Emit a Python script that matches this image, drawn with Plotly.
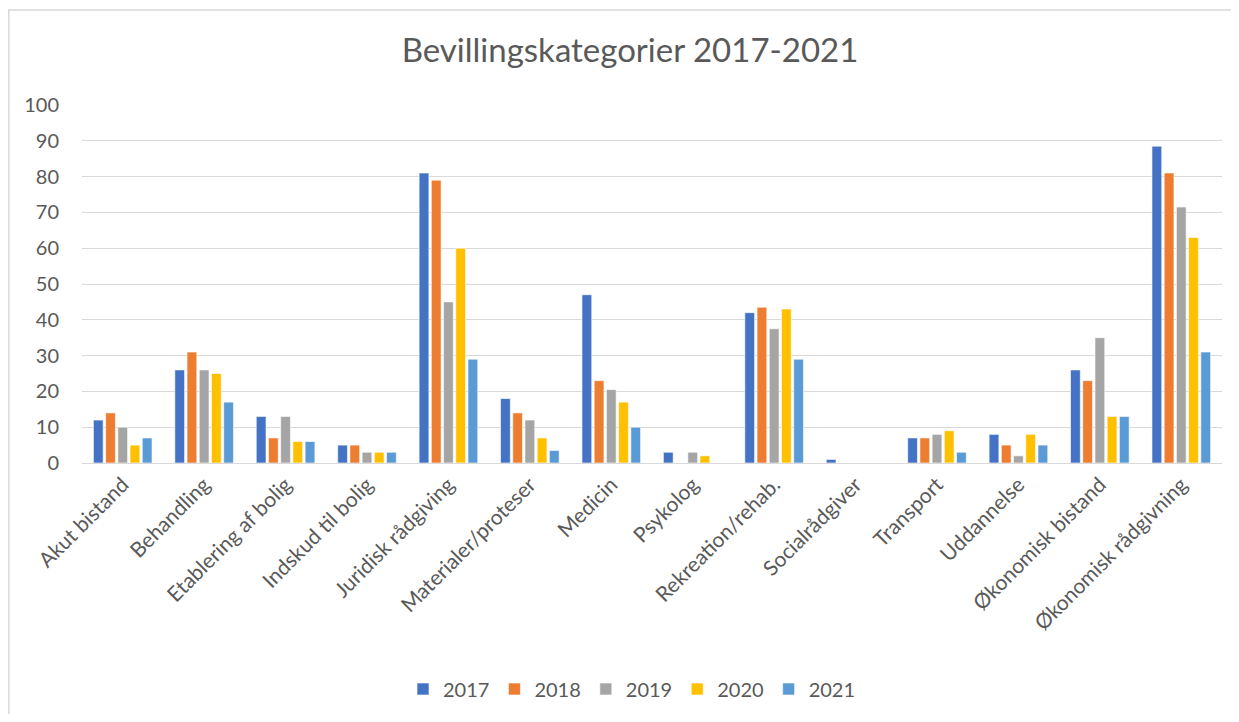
import plotly.graph_objects as go

categories = ["Akut bistand", "Behandling", "Etablering af bolig", "Indskud til bolig",
              "Juridisk rådgiving", "Materialer/proteser", "Medicin", "Psykolog",
              "Rekreation/rehab.", "Socialrådgiver", "Transport", "Uddannelse",
              "Økonomisk bistand", "Økonomisk rådgivning"]

v2017 = [12, 26, 13, 5, 81, 18, 47, 3, 42, 1, 7, 8, 26, 88.5]
v2018 = [14, 31, 7, 5, 79, 14, 23, 0, 43.5, 0, 7, 5, 23, 81]
v2019 = [10, 26, 13, 3, 45, 12, 20.5, 3, 37.5, 0, 8, 2, 35, 71.5]
v2020 = [5, 25, 6, 3, 60, 7, 17, 2, 43, 0, 9, 8, 13, 63]
v2021 = [7, 17, 6, 3, 29, 3.5, 10, 0, 29, 0, 3, 5, 13, 31]

years = ["2017", "2018", "2019", "2020", "2021"]
colors = ["#4472C4", "#ED7D31", "#A5A5A5", "#FFC000", "#5B9BD5"]
series = [v2017, v2018, v2019, v2020, v2021]

font_family = "Lato, 'Open Sans', sans-serif"
text_color = "#595959"

W, H = 1223, 706
ML, MR, MT, MB = 74, 9, 97, 251
plot_w = W - ML - MR
plot_h = H - MT - MB
plot_bottom = H - MB

fig = go.Figure()
for name, vals, col in zip(years, series, colors):
    fig.add_trace(go.Bar(x=categories, y=vals, name=name,
                         marker=dict(color=col, line=dict(color="white", width=0.6))))

fig.update_layout(
    width=W, height=H,
    margin=dict(l=ML, r=MR, t=MT, b=MB, autoexpand=False),
    paper_bgcolor="white", plot_bgcolor="white",
    barmode="group", bargap=0.25, bargroupgap=0.2,
    font=dict(family=font_family, color=text_color, size=20),
    title=dict(text="Bevillingskategorier 2017-2021", x=622/W, xanchor="center",
               y=1 - 42/H, yanchor="middle", xref="container", yref="container",
               font=dict(size=33, color=text_color, family=font_family)),
    legend=dict(orientation="h", x=(624-ML)/plot_w, xanchor="center",
                y=(plot_bottom-681)/plot_h, yanchor="middle",
                font=dict(size=20, color=text_color),
                itemwidth=30, tracegroupgap=0),
    showlegend=True,
)
fig.update_yaxes(range=[0, 100], dtick=10, showgrid=True, gridcolor="#D9D9D9",
                 gridwidth=1.2, zeroline=False, showline=False,
                 tickfont=dict(size=20, color=text_color), ticks="", ticklen=0,
                 ticklabelstandoff=22)
fig.update_xaxes(tickangle=-45, showline=True, linecolor="#D9D9D9", linewidth=1.2,
                 tickfont=dict(size=21, color=text_color), ticks="", showgrid=False)

# outer chart border (Excel chart area)
fig.add_shape(type="rect", xref="paper", yref="paper",
              x0=(0.8-ML)/plot_w, x1=(W+40-ML)/plot_w,
              y0=(plot_bottom-H-40)/plot_h, y1=(plot_bottom-2)/plot_h,
              line=dict(color="#D9D9D9", width=1.5), fillcolor="rgba(0,0,0,0)", layer="below")

fig.write_html("out.html")
